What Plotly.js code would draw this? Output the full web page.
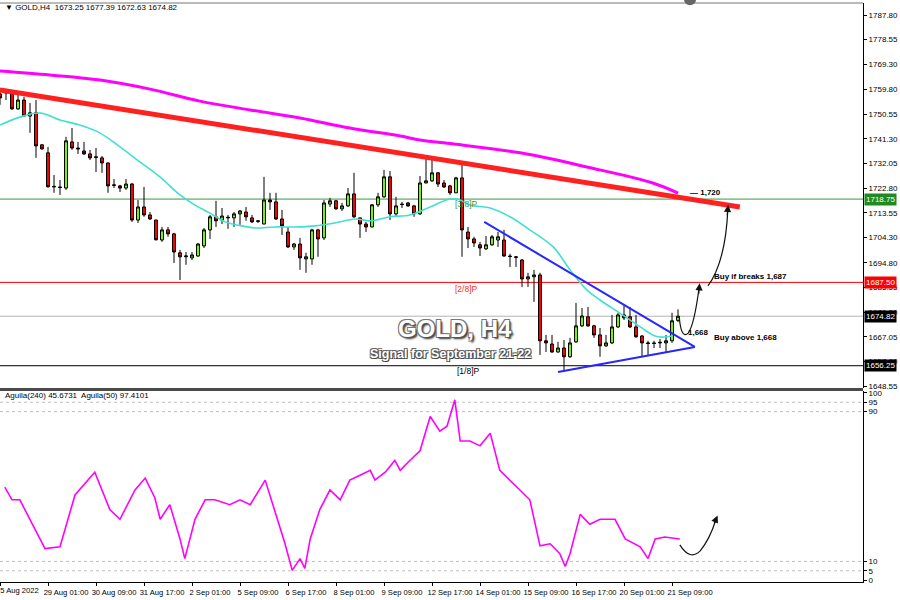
<!DOCTYPE html>
<html>
<head>
<meta charset="utf-8">
<script src="https://cdn.plot.ly/plotly-3.0.1.min.js"></script>
<style>html,body{margin:0;padding:0;background:#fff;}#chart{width:900px;height:600px;}</style>
</head>
<body>
<div id="chart"></div>
<script>
// ---- H4 candles: GOLD, 25 Aug 17:00 .. 21 Sep 13:00 ----
const open = [1758.2,1758.9,1758.6,1752.6,1755.9,1749.9,1751.1,1739.1,1736.1,1723.3,
1723.3,1722.9,1740.2,1737.9,1736.8,1735.7,1734.6,1734.2,1732.3,1724.1,
1723.7,1722.9,1724.4,1710.9,1715.8,1712.8,1710.9,1703.4,1707.2,1705.7,
1698.6,1697.1,1696.7,1697.4,1701.2,1707.2,1712.1,1710.9,1711.7,1711.7,
1713.2,1713.9,1711.7,1710.6,1709.4,1718.4,1717.7,1711.3,1706.4,1700.8,
1701.9,1696.3,1696.3,1707.2,1704.2,1716.9,1718.1,1715.1,1716.2,1720.7,
1711.7,1709.4,1708.3,1716.6,1719.6,1727.1,1713.2,1716.9,1717.3,1716.2,
1713.2,1724.8,1725.6,1728.6,1724.8,1723.7,1721.1,1726.7,1706.4,1703.8,
1701.6,1700.1,1701.6,1703.4,1703.4,1697.4,1697.1,1695.9,1688.8,1689.6,
1690.3,1665.6,1664.4,1661.4,1662.9,1659.6,1665.2,1671.2,1674.6,1671.2,
1667.8,1663.7,1664.8,1670.8,1675.3,1674.6,1670.8,1667.4,1664.8,1664.8,
1664.8,1664.8,1665.6,1673.25];
const high = [1760.4,1760.1,1758.9,1757.8,1757.1,1754.8,1755.9,1739.4,1738.3,1727.8,
1725.9,1742.1,1745.4,1740.2,1740.2,1737.2,1737.9,1734.9,1732.5,1726.3,
1724.1,1726.3,1724.8,1718.4,1723.3,1713.9,1711.0,1708.3,1708.3,1706.1,
1699.7,1698.9,1698.9,1702.3,1707.9,1712.8,1718.1,1715.4,1712.8,1713.9,
1714.7,1715.8,1712.8,1710.9,1727.1,1721.1,1721.1,1714.7,1708.3,1702.3,
1704.2,1698.6,1707.6,1707.6,1718.4,1719.2,1718.4,1717.3,1722.9,1728.6,
1711.8,1710.2,1716.9,1721.1,1729.7,1729.3,1719.6,1717.7,1717.7,1716.6,
1727.4,1733.8,1734.2,1728.9,1725.9,1724.1,1727.1,1732.3,1708.3,1704.6,
1702.7,1704.9,1705.3,1706.4,1707.2,1698.2,1697.4,1696.3,1691.1,1692.2,
1691.1,1667.8,1667.8,1665.2,1665.9,1666.7,1679.8,1677.9,1678.3,1671.6,
1670.4,1667.8,1675.3,1676.1,1679.1,1678.3,1675.3,1667.8,1665.6,1665.6,
1666.3,1667.8,1676.1,1677.39];
const low = [1754.1,1755.9,1752.2,1752.2,1749.6,1743.6,1734.2,1737.2,1723.0,1721.1,
1720.3,1722.2,1737.2,1735.7,1735.3,1733.4,1728.9,1728.6,1721.1,1722.9,
1721.4,1722.2,1710.2,1709.8,1712.1,1710.9,1703.2,1702.7,1704.6,1694.8,
1688.4,1694.1,1695.9,1697.1,1700.4,1703.8,1708.3,1709.4,1707.6,1708.3,
1709.1,1710.6,1709.8,1709.8,1709.3,1714.7,1710.9,1705.3,1700.4,1699.7,
1692.2,1691.1,1694.1,1697.1,1703.4,1715.8,1714.7,1714.3,1715.8,1711.7,
1704.2,1706.4,1708.2,1715.8,1719.2,1710.9,1712.1,1715.4,1715.8,1712.1,
1712.8,1724.7,1725.2,1723.3,1722.9,1720.3,1721.0,1697.1,1700.4,1700.8,
1697.4,1699.7,1701.2,1700.8,1697.1,1693.3,1693.3,1685.8,1685.8,1680.2,
1660.3,1661.4,1661.1,1661.1,1653.9,1659.2,1664.8,1670.8,1670.8,1666.7,
1659.6,1663.3,1664.4,1670.4,1673.4,1670.4,1666.7,1659.6,1660.3,1662.9,
1662.9,1661.4,1664.8,1672.63];
const close = [1756.7,1758.6,1752.6,1755.9,1749.9,1751.1,1738.7,1737.6,1723.4,1723.5,
1723.1,1740.6,1737.9,1737.6,1735.7,1734.2,1734.4,1732.3,1723.7,1723.9,
1722.9,1724.4,1710.9,1715.8,1712.8,1711.3,1703.5,1707.2,1705.7,1698.9,
1697.1,1697.4,1697.8,1701.9,1707.2,1712.1,1710.6,1712.4,1711.9,1713.2,
1714.3,1712.1,1710.2,1710.4,1718.4,1717.7,1711.3,1708.7,1700.8,1701.9,
1696.7,1697.1,1707.2,1703.8,1717.3,1718.1,1715.1,1716.2,1720.7,1712.1,
1709.4,1708.3,1716.6,1719.6,1727.1,1713.2,1716.2,1716.7,1716.2,1713.2,
1724.8,1725.6,1728.6,1724.4,1723.3,1721.1,1726.7,1707.2,1703.8,1702.3,
1700.4,1701.6,1704.6,1704.6,1697.4,1697.2,1696.9,1688.8,1689.6,1690.3,
1665.6,1664.8,1661.4,1662.9,1659.6,1664.8,1671.2,1674.9,1671.2,1667.8,
1663.7,1664.8,1670.8,1675.3,1674.2,1670.8,1667.1,1664.8,1664.6,1664.6,
1665.0,1665.6,1673.1,1674.82];

// x-axis time labels (bar index -> label); the first one sits at the left edge
const timeTickBars = [0,8,16,24,32,40,48,56,64,72,80,88,96,104,112];
const timeTickLabels = ['25 Aug 2022','29 Aug 01:00','30 Aug 09:00','31 Aug 17:00','2 Sep 01:00','5 Sep 09:00','6 Sep 17:00','8 Sep 01:00','9 Sep 09:00','12 Sep 17:00','14 Sep 01:00','15 Sep 09:00','16 Sep 17:00','20 Sep 01:00','21 Sep 09:00'];

// price axis labels
const priceTicks = [1787.80,1778.55,1769.30,1759.80,1750.55,1741.30,1732.05,1722.80,1713.55,1704.30,1694.80,1685.55,1676.30,1667.05,1657.80,1648.55];
const priceTickText = ['1787.80','1778.55','1769.30','1759.80','1750.55','1741.30','1732.05','1722.80','1713.55','1704.30','1694.80','1685.55','1676.30','1667.05','1657.80','1648.55'];

// slow moving average (magenta)
const maSlowBar = [0,8.3,16.7,25,33.3,41.7,50,58.3,66.7,70,75,86.7,97.8,108.8,113];
const maSlowVal = [1766.8,1765.3,1763.4,1760.0,1755.5,1752.2,1749.2,1745.4,1742.4,1740.9,1739.6,1736.1,1730.8,1724.8,1721.0];

// fast moving average (cyan)
const maFastBar = [0,3.3,6.7,10,13.3,16.7,20,23.3,26.7,30,32.5,35,37.5,40.3,42.5,45.8,49.2,52.5,55.8,59.2,61.7,65,68.3,71.7,75,76.7,78.3,81.7,85,88.3,92.2,95,97.8,100,103.3,106.7,108.8,110,112];
const maFastVal = [1746.5,1749.5,1751.0,1748.4,1746.5,1743.5,1738.3,1732.7,1727.0,1720.3,1716.5,1713.5,1710.2,1708.7,1707.9,1708.3,1708.3,1708.7,1709.8,1711.3,1710.6,1712.1,1712.8,1715.8,1718.8,1718.4,1716.5,1715.4,1712.1,1707.2,1700.8,1692.2,1684.7,1680.9,1676.0,1670.8,1667.8,1667.0,1667.4];

// levels
const levelValues = [1718.75, 1687.50, 1674.82, 1656.25];
const levelColors = ['#3a9a3a', '#ff0000', '#b4b4b4', '#000000'];
const levelBoxColors = ['#1f8a1f', '#ff0000', '#000000', '#000000'];

// trend lines
const resistX = [0, 123.3];
const resistY = [1759.7, 1715.8];
const triUpperX = [80.7, 115.8];
const triUpperY = [1710.2, 1663.3];
const triLowerX = [93, 115.8];
const triLowerY = [1653.9, 1663.3];

// oscillator (Aguila)
const oscBar = [0.8,2,3.3,7.5,10,12.5,15.8,18.3,20,22.5,24.2,25.8,26.7,28.3,30,30.8,32.5,34.2,35.8,38.3,40,41.7,44.2,47.5,48.7,50,50.8,51.7,53.3,55,56.7,58.3,60,61.7,62.5,64.2,65.8,66.7,68.3,70,71.7,73.3,74.5,75.8,76.7,78.3,80,81.7,83.3,85,86.7,88.3,90,91.7,93.3,94.2,95,96.7,98.3,100,102.5,104.2,106.7,108,109.2,110.8,113.3];
const oscVal = [49.7,42.9,42.9,16.8,17.8,45.5,57.6,37.7,32.5,48.2,54.5,44.0,32.5,40.3,22.0,11.5,32.5,42.9,42.9,40.3,42.9,40.3,53.4,19.4,5.2,11.5,6.3,22.0,37.7,48.2,42.9,53.4,56.0,58.6,53.4,57.6,63.9,58.6,63.9,69.1,87.4,79.6,82.2,96.3,74.3,74.3,71.7,78.5,58.6,53.4,48.2,42.9,18.3,19.4,14.1,7.3,14.1,35.1,29.8,32.5,32.5,22.0,17.8,11.5,22.0,23.0,22.0];
const oscTicks = [0,5,10,90,95,100];
const oscLevels = [5,10,90,95];

const bars = open.map((_, i) => i);
const FONT = 'Liberation Sans, Arial, sans-serif';

const traces = [
  {type:'candlestick', x:bars, open:open, high:high, low:low, close:close, xaxis:'x', yaxis:'y',
   increasing:{line:{color:'#000', width:1}, fillcolor:'#7CFC00'},
   decreasing:{line:{color:'#000', width:1}, fillcolor:'#FF0000'},
   whiskerwidth:0, hoverinfo:'skip', showlegend:false},
  {type:'scatter', mode:'lines', x:maSlowBar, y:maSlowVal, line:{color:'#FF00FF', width:3, shape:'spline'}, hoverinfo:'skip', yaxis:'y'},
  {type:'scatter', mode:'lines', x:maFastBar, y:maFastVal, line:{color:'#40E0D0', width:1.6, shape:'spline'}, hoverinfo:'skip', yaxis:'y'},
  {type:'scatter', mode:'lines', x:resistX, y:resistY, line:{color:'#FF2020', width:5}, hoverinfo:'skip', yaxis:'y'},
  {type:'scatter', mode:'lines', x:triUpperX, y:triUpperY, line:{color:'#2626FF', width:2}, hoverinfo:'skip', yaxis:'y'},
  {type:'scatter', mode:'lines', x:triLowerX, y:triLowerY, line:{color:'#2626FF', width:2}, hoverinfo:'skip', yaxis:'y'},
  {type:'scatter', mode:'lines', x:oscBar, y:oscVal, line:{color:'#FF00FF', width:1.6}, hoverinfo:'skip', yaxis:'y2'}
];

const shapes = [];
levelValues.forEach((v, k) => {
  shapes.push({type:'line', xref:'paper', yref:'y', x0:0, x1:1, y0:v, y1:v, line:{color:levelColors[k], width:1}, layer:'below'});
});
oscLevels.forEach(v => {
  shapes.push({type:'line', xref:'paper', yref:'y2', x0:0, x1:1, y0:v, y1:v, line:{color:'#c0c0c0', width:1, dash:'dot'}, layer:'below'});
});
// panel separator and borders
shapes.push({type:'line', xref:'paper', yref:'paper', x0:0, x1:1.0, y0:0.3325, y1:0.3325, line:{color:'#4a4a4a', width:3}});
shapes.push({type:'line', xref:'paper', yref:'paper', x0:0, x1:1.0, y0:1, y1:1, line:{color:'#777', width:1}});
// hand drawn arrows
shapes.push({type:'path', xref:'x', yref:'y', path:'M 118.0,1686.2 Q 120.9,1695.2 121.3,1714.7', line:{color:'#111', width:1.2}});
shapes.push({type:'path', xref:'x', yref:'y', path:'M 113.2,1674.8 Q 113.5,1665.9 114.7,1668.5 Q 115.7,1671.5 116.5,1685.4', line:{color:'#111', width:1.2}});
shapes.push({type:'path', xref:'x', yref:'y2', path:'M 113.3,18.8 Q 115.0,10.2 116.7,15.6 Q 118.3,22.0 119.3,32.1', line:{color:'#111', width:1.2}});
shapes.push({type:'circle', xref:'paper', yref:'paper', x0:0.7926, x1:0.8065, y0:0.996, y1:1.016, fillcolor:'#666', line:{width:0}});

const annotations = [
  {xref:'paper', yref:'paper', x:0.003, y:0.992, xanchor:'left', yanchor:'middle', showarrow:false,
   text:'\u25BC GOLD,H4  1673.25 1677.39 1672.63 1674.82', font:{family:FONT, size:8, color:'#000'}},
  {xref:'paper', yref:'paper', x:0.003, y:0.3225, xanchor:'left', yanchor:'middle', showarrow:false,
   text:'Aguila(240) 45.6731  Aguila(50) 97.4101', font:{family:FONT, size:8, color:'#000'}},
  // first time label, cut by the left edge as in the terminal
  {xref:'paper', yref:'paper', x:0.0475, y:-0.0145, xanchor:'right', yanchor:'middle', showarrow:false,
   text:timeTickLabels[0], font:{family:FONT, size:7.6, color:'#000'}},
  {xref:'x', yref:'y', x:77.8, y:1717.0, showarrow:false, text:'[3/8]P', font:{family:FONT, size:8.5, color:'#3a9a3a'}},
  {xref:'x', yref:'y', x:77.8, y:1685.1, showarrow:false, text:'[2/8]P', font:{family:FONT, size:8.5, color:'#ff2a2a'}},
  {xref:'x', yref:'y', x:78.0, y:1654.4, showarrow:false, text:'[1/8]P', font:{family:FONT, size:8.5, color:'#000'}},
  {xref:'x', yref:'y', x:114.6, y:1721.3, xanchor:'left', showarrow:false, text:'<b>\u2014 1,720</b>', font:{family:FONT, size:8, color:'#000'}},
  {xref:'x', yref:'y', x:118.6, y:1689.9, xanchor:'left', showarrow:false, text:'<b>Buy if breaks 1,687</b>', font:{family:FONT, size:8, color:'#000'}},
  {xref:'x', yref:'y', x:114.4, y:1668.6, xanchor:'left', showarrow:false, text:'<b>1,668</b>', font:{family:FONT, size:8, color:'#000'}},
  {xref:'x', yref:'y', x:118.7, y:1667.0, xanchor:'left', showarrow:false, text:'<b>Buy above 1,668</b>', font:{family:FONT, size:8, color:'#000'}},
  {xref:'x', yref:'y', x:75.8, y:1670.2, showarrow:false, text:'<b>GOLD, H4</b>',
   font:{family:FONT, size:24, color:'#ffffff', shadow:'1px 1px 0 #555, -1px -1px 0 #777, 1px -1px 0 #777, -1px 1px 0 #777, 2px 2px 2px #333'}},
  {xref:'x', yref:'y', x:75.0, y:1660.7, showarrow:false, text:'<b>Signal for September 21-22</b>',
   font:{family:FONT, size:12.5, color:'#ffffff', shadow:'1px 1px 0 #444, -1px -1px 0 #666, 1px -1px 0 #666, -1px 1px 0 #666'}},
  // arrow heads
  {xref:'x', yref:'y', x:121.35, y:1716.6, ax:-1, ay:12, showarrow:true, arrowhead:2, arrowsize:1.2, arrowwidth:1.2, arrowcolor:'#111', text:''},
  {xref:'x', yref:'y', x:116.6, y:1687.2, ax:-1, ay:12, showarrow:true, arrowhead:2, arrowsize:1.2, arrowwidth:1.2, arrowcolor:'#111', text:''},
  {xref:'x', yref:'y2', x:119.6, y:34.5, ax:-4, ay:9, showarrow:true, arrowhead:2, arrowsize:1.2, arrowwidth:1.2, arrowcolor:'#111', text:''}
];
levelValues.forEach((v, k) => {
  annotations.push({xref:'paper', yref:'y', x:1, xshift:1, y:v, xanchor:'left', yanchor:'middle', showarrow:false,
    text:v.toFixed(2), bgcolor:levelBoxColors[k], borderpad:1, font:{family:FONT, size:8, color:'#fff'}});
});

const tickTextShown = timeTickLabels.map((t, k) => k === 0 ? ' ' : t);

const layout = {
  width:900, height:600,
  margin:{l:0, r:37, t:3, b:18},
  paper_bgcolor:'#ffffff', plot_bgcolor:'#ffffff',
  showlegend:false, hovermode:false,
  font:{family:FONT, size:8, color:'#000'},
  xaxis:{range:[0, 143.83], anchor:'y2', tickmode:'array', tickvals:timeTickBars, ticktext:tickTextShown, tickangle:0,
    ticks:'outside', ticklen:3, tickcolor:'#000', ticklabelshift:18, tickfont:{family:FONT, size:7.6, color:'#000'},
    showgrid:false, zeroline:false, showline:true, linecolor:'#000', linewidth:1, rangeslider:{visible:false}, fixedrange:true},
  yaxis:{domain:[0.3351, 1], range:[1647.9, 1792.3], side:'right', anchor:'x', tickmode:'array', tickvals:priceTicks, ticktext:priceTickText,
    ticks:'outside', ticklen:3, tickcolor:'#000', tickfont:{family:FONT, size:8, color:'#000'},
    showgrid:false, zeroline:false, showline:true, linecolor:'#000', linewidth:1},
  yaxis2:{domain:[0, 0.3299], range:[-1, 101], side:'right', anchor:'x', tickmode:'array', tickvals:oscTicks,
    ticks:'outside', ticklen:3, tickcolor:'#000', tickfont:{family:FONT, size:8, color:'#000'},
    showgrid:false, zeroline:false, showline:true, linecolor:'#000', linewidth:1},
  shapes:shapes,
  annotations:annotations
};

Plotly.newPlot('chart', traces, layout, {staticPlot:true, displayModeBar:false});
</script>
</body>
</html>
